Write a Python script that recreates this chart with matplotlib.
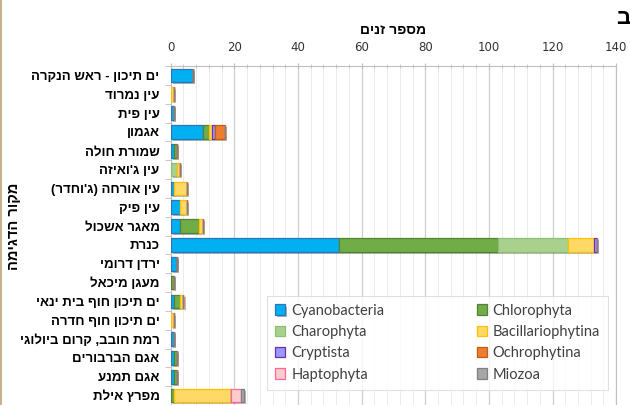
import numpy as np
import matplotlib
matplotlib.use("Agg")
import matplotlib.pyplot as plt
import matplotlib.patheffects as pe
from matplotlib.ticker import MultipleLocator

HEB = ['Liberation Sans', 'DejaVu Sans']


def rtl(s):
    # matplotlib has no bidi support: reverse and mirror brackets
    s = s[::-1]
    return s.translate(str.maketrans("()", ")("))


# === DATA ===
sites = ["ים תיכון - ראש הנקרה", "עין נמרוד", "עין פית", "אגמון", "שמורת חולה",
         "עין ג'ואיזה", "עין אורחה (ג'וחדר)", "עין פיק", "מאגר אשכול", "כנרת",
         "ירדן דרומי", "מעגן מיכאל", "ים תיכון חוף בית ינאי", "ים תיכון חוף חדרה",
         "רמת חובב, קרום ביולוגי", "אגם הברבורים", "אגם תמנע", "מפרץ אילת"]

cyanobacteria = [7, 0, 1, 10, 1, 0, 1, 3, 3, 53, 2, 0, 1, 0, 1, 1, 1, 0]
chlorophyta = [0, 0, 0, 2, 1, 0, 0, 0, 6, 50, 0, 1, 2, 0, 0, 1, 1, 1]
charophyta = [0, 0, 0, 0, 0, 2, 0, 0, 0, 22, 0, 0, 0, 0, 0, 0, 0, 0]
bacillariophytina = [0, 1, 0, 1, 0, 1, 4, 2, 1, 8, 0, 0, 1, 1, 0, 0, 0, 18]
cryptista = [0, 0, 0, 1, 0, 0, 0, 0, 0, 1, 0, 0, 0, 0, 0, 0, 0, 0]
ochrophytina = [0, 0, 0, 3, 0, 0, 0, 0, 0, 0, 0, 0, 0, 0, 0, 0, 0, 0]
haptophyta = [0, 0, 0, 0, 0, 0, 0, 0, 0, 0, 0, 0, 0, 0, 0, 0, 0, 3]
miozoa = [0, 0, 0, 0, 0, 0, 0, 0, 0, 0, 0, 0, 0, 0, 0, 0, 0, 1]

series = [
    ("Cyanobacteria", cyanobacteria, '#00B0F0', '#2E75B6'),
    ("Chlorophyta", chlorophyta, '#70AD47', '#548235'),
    ("Charophyta", charophyta, '#A9D18E', '#8DBF70'),
    ("Bacillariophytina", bacillariophytina, '#FFD966', '#FFC000'),
    ("Cryptista", cryptista, '#9999FF', '#7030A0'),
    ("Ochrophytina", ochrophytina, '#ED7D31', '#C55A11'),
    ("Haptophyta", haptophyta, '#FFCCCC', '#FF6699'),
    ("Miozoa", miozoa, '#A6A6A6', '#7F7F7F'),
]

# === Plot ===
fig = plt.figure(figsize=(6.3, 4.05), dpi=100)
ax = fig.add_axes([0.271, 0.0, 0.707, 0.837])

y = np.arange(len(sites))
left = np.zeros(len(sites))
handles = {}
shadow = [pe.SimplePatchShadow(offset=(1.5, -1.5), alpha=0.35), pe.Normal()]
for name, vals, fc, ec in series:
    vals = np.array(vals, dtype=float)
    bars = ax.barh(y, vals, left=left, height=0.72, color=fc, edgecolor=ec,
                   linewidth=0.9, label=name, zorder=3)
    for b in bars:
        if b.get_width() > 0:
            b.set_path_effects(shadow)
    handles[name] = bars
    left += vals

ax.set_xlim(0, 140)
ax.set_ylim(len(sites) - 0.5, -0.5)

ax.xaxis.tick_top()
ax.xaxis.set_label_position('top')
ax.xaxis.set_major_locator(MultipleLocator(20))
ax.xaxis.set_minor_locator(MultipleLocator(4))
ax.tick_params(axis='x', which='major', direction='inout', length=5, color='#bfbfbf',
               labelsize=8.5, labelcolor='#333333', pad=6)
ax.tick_params(axis='x', which='minor', direction='inout', length=3, color='#bfbfbf')
ax.grid(axis='x', which='major', color='#cfcfcf', linewidth=0.9, zorder=0)
ax.grid(axis='x', which='minor', color='#ececec', linewidth=0.7, zorder=0)
ax.set_axisbelow(True)

ax.set_yticks(y)
ax.set_yticklabels([rtl(s) for s in sites], family=HEB, fontweight='bold', fontsize=9.5)
ax.set_yticks(np.arange(-0.5, len(sites), 1), minor=True)
ax.tick_params(axis='y', which='major', length=0, pad=8)
ax.tick_params(axis='y', which='minor', length=4, color='#bfbfbf')

for s in ['top', 'left', 'right']:
    ax.spines[s].set_color('#bfbfbf')
ax.spines['bottom'].set_visible(False)

ax.set_xlabel(rtl("מספר זנים"), family=HEB, fontweight='bold', fontsize=10, labelpad=5)
fig.text(0.022, 0.44, rtl("מקור הדגימה"), family=HEB, fontweight='bold', fontsize=10.5,
         rotation=90, ha='center', va='center')
fig.text(0.978, 0.955, "ב", family=HEB, fontweight='bold', fontsize=16,
         ha='left', va='center')

# slide border on the left
fig.add_artist(plt.Line2D([0.002, 0.002], [0, 1], color='#c8b48a', linewidth=1.5))

order = ["Cyanobacteria", "Charophyta", "Cryptista", "Haptophyta",
         "Chlorophyta", "Bacillariophytina", "Ochrophytina", "Miozoa"]
leg = fig.legend([handles[n] for n in order], order, ncol=2, loc='upper left',
                 bbox_to_anchor=(0.424, 0.040, 0.541, 0.230), mode='expand',
                 prop={'family': 'Lato', 'size': 10.5}, frameon=True, fancybox=False,
                 edgecolor='#d9d9d9', handlelength=0.7, handleheight=0.7,
                 handletextpad=0.4, labelspacing=0.5, borderpad=0.55,
                 borderaxespad=0, columnspacing=1.0)
leg.get_frame().set_linewidth(0.8)
for t in leg.get_texts():
    t.set_color('#404040')

fig.savefig("out.png", dpi=100)
